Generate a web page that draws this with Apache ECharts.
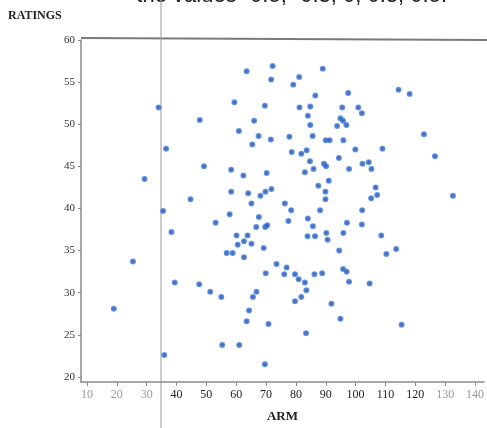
<!DOCTYPE html>
<html>
<head>
<meta charset="utf-8">
<script src="https://cdn.jsdelivr.net/npm/echarts@6/dist/echarts.min.js"></script>
<style>
html, body { margin: 0; padding: 0; background: #fff; }
#chart { width: 487px; height: 428px; }
</style>
</head>
<body>
<div id="chart"></div>
<script>
// values
const arm = [34.0,36.5,29.3,47.8,49.2,44.7,63.5,72.2,71.7,59.4,
  69.6,66.0,60.9,67.5,65.4,71.6,58.3,62.4,70.2,58.3,
  64.0,68.1,69.8,71.8,65.1,81.1,79.1,89.0,86.5,97.5,
  81.2,84.8,95.5,100.9,102.1,84.0,94.9,95.8,96.9,93.8,
  84.8,77.8,85.6,90.0,91.3,95.9,114.4,118.1,122.9,99.9,
  109.0,126.6,78.6,81.8,83.6,84.7,85.9,89.4,90.1,94.4,
  83.0,97.8,102.3,104.4,105.3,91.0,87.5,89.9,89.9,76.3,
  78.4,88.1,102.2,106.7,107.2,105.2,132.6,35.5,38.3,53.1,
  57.8,67.6,66.7,69.7,70.4,60.1,63.8,62.6,60.5,65.1,
  69.2,56.8,58.8,62.6,73.5,69.9,25.4,39.4,47.6,51.3,
  55.0,66.8,65.6,64.3,63.5,70.8,19.0,55.3,61.0,35.9,
  69.6,77.5,84.0,85.7,97.1,102.1,83.9,86.4,90.2,90.6,
  95.9,108.6,94.5,110.3,113.6,76.1,76.9,79.7,80.9,83.0,
  86.2,88.8,95.8,97.0,97.8,104.7,83.5,81.8,79.7,91.9,
  94.9,83.4,115.4]
const ratings = [52.0,47.1,43.5,50.5,45.0,41.1,56.3,56.9,55.3,52.6,
  52.2,50.4,49.2,48.6,47.6,48.2,44.6,43.9,44.2,42.0,
  41.8,41.5,42.0,42.3,40.6,55.6,54.7,56.6,53.4,53.7,
  52.0,52.1,52.0,52.0,51.3,51.0,50.7,50.4,49.9,49.8,
  49.9,48.5,48.6,48.1,48.1,48.1,54.1,53.6,48.8,47.0,
  47.1,46.2,46.7,46.5,46.9,45.6,44.7,45.3,45.0,46.0,
  44.3,44.7,45.3,45.5,44.7,43.3,42.7,42.0,41.1,40.6,
  39.8,39.8,39.8,42.5,41.6,41.2,41.5,39.7,37.2,38.3,
  39.3,39.0,37.8,37.8,38.0,36.8,36.8,36.1,35.7,35.8,
  35.3,34.7,34.7,34.2,33.4,32.3,33.7,31.2,31.0,30.1,
  29.5,30.1,29.5,27.9,26.6,26.3,28.1,23.8,23.8,22.6,
  21.5,38.5,38.8,37.9,38.3,38.1,36.7,36.7,37.1,36.3,
  37.1,36.8,35.0,34.6,35.2,32.2,33.0,32.2,31.6,31.2,
  32.2,32.3,32.8,32.5,31.3,31.1,30.3,29.5,29.0,28.7,
  26.9,25.2,26.2]
const xTicks = [10, 20, 30, 40, 50, 60, 70, 80, 90, 100, 110, 120, 130, 140]
const yTicks = [20, 25, 30, 35, 40, 45, 50, 55, 60]
const fadedX = [10, 20, 30, 130, 140]

const chart = echarts.init(document.getElementById('chart'))
const points = arm.map((a, i) => [a, ratings[i]])

const option = {
  animation: false,
  grid: { left: 81, right: 0, top: 40, bottom: 46 },
  xAxis: {
    type: 'value',
    min: 8,
    max: 143,
    splitLine: { show: false },
    axisLine: { lineStyle: { color: '#8a8a8a', width: 1.5 } },
    axisTick: { customValues: xTicks, length: 4, lineStyle: { color: '#8a8a8a' } },
    axisLabel: {
      customValues: xTicks,
      margin: 7,
      fontFamily: 'Liberation Serif',
      fontSize: 12,
      formatter: v => fadedX.includes(v) ? '{f|' + v + '}' : '{n|' + v + '}',
      rich: {
        n: { color: '#222', fontFamily: 'Liberation Serif', fontSize: 12 },
        f: { color: '#999', fontFamily: 'Liberation Serif', fontSize: 12 }
      }
    },
    name: 'ARM',
    nameLocation: 'middle',
    nameGap: 28,
    nameTextStyle: { color: '#222', fontFamily: 'Liberation Serif', fontWeight: 'bold', fontSize: 13 }
  },
  yAxis: {
    type: 'value',
    min: 19.4,
    max: 60,
    splitLine: { show: false },
    axisLine: { show: true, lineStyle: { color: '#8a8a8a', width: 1.5 } },
    axisTick: { show: true, customValues: yTicks, length: 3, lineStyle: { color: '#8a8a8a' } },
    axisLabel: {
      customValues: yTicks,
      margin: 6,
      color: '#333',
      fontFamily: 'Liberation Serif',
      fontSize: 11
    }
  },
  graphic: [
    {
      type: 'text', left: 8, top: 10,
      style: { text: 'RATINGS', fill: '#222', font: 'bold 12px "Liberation Serif"' }
    },
    {
      type: 'text', x: 447, y: -4.5,
      style: { text: 'the values -0.5, -0.3, 0, 0.3, 0.5.', fill: '#222', align: 'right', verticalAlign: 'middle', font: '22px "Liberation Sans"' }
    },
    // top frame edge (slightly skewed in the scan)
    { type: 'line', shape: { x1: 81, y1: 38, x2: 487, y2: 40 }, style: { stroke: '#7a7a7a', lineWidth: 2 } },
    // fold line from the scan
    { type: 'line', shape: { x1: 161, y1: 0, x2: 161, y2: 428 }, style: { stroke: '#9a9a9a', lineWidth: 1 } }
  ],
  series: [
    {
      type: 'scatter',
      data: points,
      symbolSize: 6,
      itemStyle: {
        color: {
          type: 'radial', x: 0.5, y: 0.5, r: 0.5,
          colorStops: [
            { offset: 0, color: '#16308a' },
            { offset: 1, color: '#3f86ee' }
          ]
        }
      }
    }
  ]
}
chart.setOption(option)
</script>
</body>
</html>
